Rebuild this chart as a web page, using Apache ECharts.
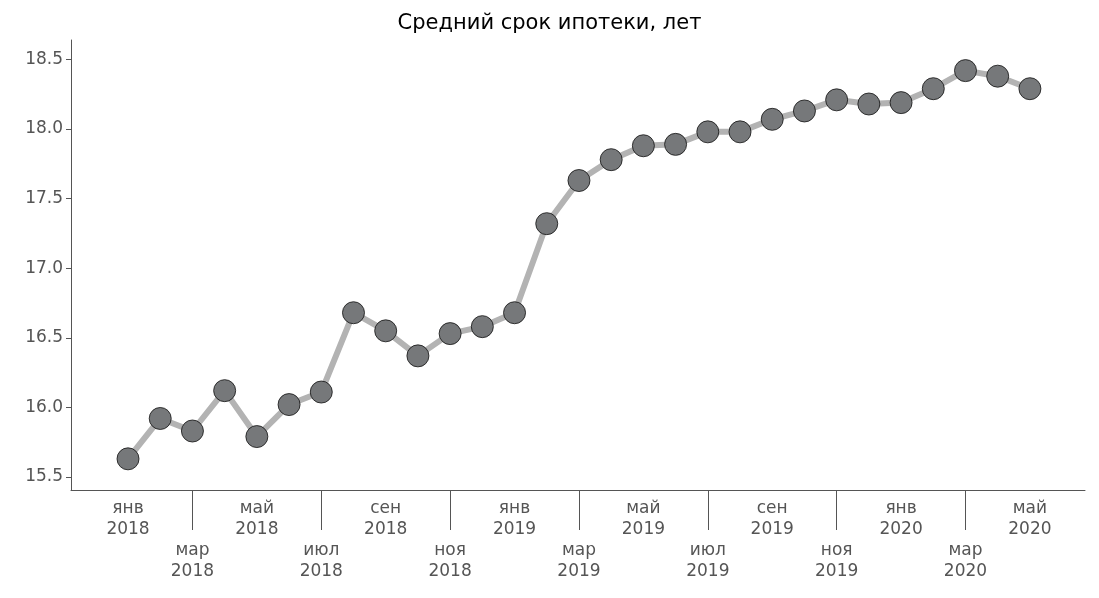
<!DOCTYPE html><html><head><meta charset="utf-8">
<script src="https://cdn.jsdelivr.net/npm/echarts@6/dist/echarts.min.js"></script>
<style>body{margin:0}#c{width:1099px;height:598px}</style></head><body><div id="c"></div>
<script>
const months=['янв','фев','мар','апр','май','июн','июл','авг','сен','окт','ноя','дек'];
const startYear=2018;
const values=[15.63,15.92,15.83,16.12,15.79,16.02,16.11,16.68,16.55,16.37,16.53,16.58,16.68,17.32,17.63,17.78,17.88,17.89,17.98,17.98,18.07,18.13,18.21,18.18,18.19,18.29,18.42,18.38,18.29];
const yTicks=[15.5,16.0,16.5,17.0,17.5,18.0,18.5];
const labelIdx=values.map((v,i)=>i).filter(i=>i%2===0);
const tickIdx=labelIdx.filter(i=>i%4===2);
const font='DejaVu Sans';
const chart=echarts.init(document.getElementById('c'));
chart.setOption({
 title:{text:'Средний срок ипотеки, лет',left:'center',top:8,textStyle:{fontFamily:font,fontSize:21,fontWeight:'normal',color:'#000'}},
 grid:{left:71,right:14,top:40,bottom:108},
 xAxis:{type:'value',min:-1.77,max:29.71,
  axisLine:{onZero:false,lineStyle:{color:'#555'}},splitLine:{show:false},
  axisTick:{customValues:tickIdx,length:40,lineStyle:{color:'#555'}},
  axisLabel:{customValues:labelIdx,fontFamily:font,fontSize:17,color:'#555',lineHeight:21,
   formatter:v=>{const i=Math.round(v);const s=months[i%12]+'\n'+(startYear+Math.floor(i/12));return i%4===2?'\n\n'+s:s;}}},
 yAxis:{type:'value',min:15.406,max:18.64,
  axisLine:{show:true,onZero:false,lineStyle:{color:'#555'}},axisTick:{show:true,customValues:yTicks,lineStyle:{color:'#555'}},splitLine:{show:false},
  axisLabel:{customValues:yTicks,fontFamily:font,fontSize:17,color:'#555',formatter:v=>v.toFixed(1)}},
 series:[{type:'line',data:values.map((v,i)=>[i,v]),lineStyle:{color:'#b3b3b3',width:6},
  symbol:'circle',symbolSize:22,itemStyle:{color:'#76787a',borderColor:'#111',borderWidth:0.8},animation:false}]
});
</script></body></html>
